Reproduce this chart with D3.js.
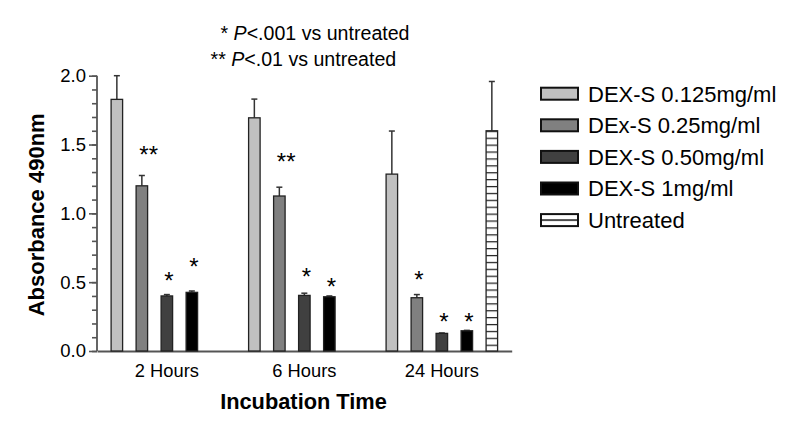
<!DOCTYPE html>
<html>
<head>
<meta charset="utf-8">
<script src="https://cdn.jsdelivr.net/npm/d3@7"></script>
<style>
  html, body { margin: 0; padding: 0; background: #fff; }
  svg { display: block; font-family: "Liberation Sans", Arial, sans-serif; }
</style>
</head>
<body>
<svg id="chart" width="797" height="434"></svg>
<script>
// ---- data ----
const groups = ["2 Hours", "6 Hours", "24 Hours"];
const seriesNames = ["DEX-S 0.125mg/ml", "DEx-S 0.25mg/ml", "DEX-S 0.50mg/ml", "DEX-S 1mg/ml", "Untreated"];
const dex0125 = [1.828, 1.694, 1.285];
const dex025 = [1.20, 1.126, 0.387];
const dex050 = [0.40, 0.404, 0.128];
const dex1 = [0.426, 0.394, 0.147];
const untreated = [null, null, 1.60];
const err0125 = [0.172, 0.136, 0.313];
const err025 = [0.075, 0.064, 0.023];
const err050 = [0.010, 0.016, 0.003];
const err1 = [0.010, 0.006, 0.003];
const errUntreated = [null, null, 0.358];
const yTicks = [0, 0.5, 1.0, 1.5, 2.0];
const yMinorTicks = d3.range(0, 21).map(i => i / 10);
// significance marks: [group, series, label, y position in data units]
const sigGroup = ["2 Hours", "2 Hours", "2 Hours", "6 Hours", "6 Hours", "6 Hours", "24 Hours", "24 Hours", "24 Hours"];
const sigSeries = [1, 2, 3, 1, 2, 3, 1, 2, 3];
const sigLabel = ["**", "*", "*", "**", "*", "*", "*", "*", "*"];
const sigY = [1.467, 0.552, 0.649, 1.412, 0.576, 0.503, 0.557, 0.254, 0.254];
const noteLines = [["*", "P", "<.001 vs untreated"], ["**", "P", "<.01 vs untreated"]];

// ---- table ----
const values = [dex0125, dex025, dex050, dex1, untreated];
const errors = [err0125, err025, err050, err1, errUntreated];
const table = [];
groups.forEach((g, gi) => {
  seriesNames.forEach((s, si) => {
    if (values[si][gi] != null) table.push({ g, si, v: values[si][gi], e: errors[si][gi] });
  });
});

const fills = ["#c0c0c0", "#808080", "#404040", "#000000", "url(#stripes)"];
const legendFills = ["#c0c0c0", "#808080", "#404040", "#000000", "url(#stripesLegend)"];

const svg = d3.select("#chart");
const defs = svg.append("defs");
const pat = defs.append("pattern").attr("id", "stripes")
  .attr("patternUnits", "userSpaceOnUse").attr("width", 20).attr("height", 6.9)
  .attr("y", 0);
pat.append("rect").attr("width", 20).attr("height", 6.9).attr("fill", "#fff");
pat.append("line").attr("x1", 0).attr("x2", 20).attr("y1", 0.6).attr("y2", 0.6)
  .attr("stroke", "#222").attr("stroke-width", 1.3);
const pat2 = defs.append("pattern").attr("id", "stripesLegend")
  .attr("patternUnits", "objectBoundingBox").attr("patternContentUnits", "objectBoundingBox")
  .attr("width", 1).attr("height", 1);
pat2.append("rect").attr("width", 1).attr("height", 1).attr("fill", "#fff");
pat2.append("line").attr("x1", 0).attr("x2", 1).attr("y1", 0.5).attr("y2", 0.5)
  .attr("stroke", "#111").attr("stroke-width", 0.14);

// ---- scales ----
const x0 = d3.scaleBand().domain(groups).range([97, 511.7])
  .paddingInner(0.0909).paddingOuter(0.0535);
const x1 = d3.scaleBand().domain(d3.range(seriesNames.length)).range([0, x0.bandwidth()])
  .paddingInner(0.54).paddingOuter(0.27);
const y = d3.scaleLinear().domain([0, 2]).range([351, 75.7]);

// pattern aligned to top of untreated bar
pat.attr("y", y(untreated[2]));

// ---- axes ----
const axisColor = "#555";
const yMinor = svg.append("g").attr("transform", "translate(97,0)")
  .call(d3.axisLeft(y).tickValues(yMinorTicks).tickSize(5).tickFormat(""));
const yAxis = svg.append("g").attr("transform", "translate(97,0)")
  .call(d3.axisLeft(y).tickValues(yTicks).tickSize(8).tickSizeOuter(0).tickPadding(3).tickFormat(d3.format(".1f")));
[yMinor, yAxis].forEach(a => {
  a.selectAll("path,line").attr("stroke", axisColor).attr("stroke-width", 1.6);
  a.select(".domain").remove();
});
yAxis.selectAll("text").attr("font-size", 18.5).attr("fill", "#000")
  .attr("font-family", "Liberation Sans, Arial, sans-serif");
svg.append("line").attr("x1", 97).attr("x2", 97).attr("y1", y(2)).attr("y2", y(0))
  .attr("stroke", axisColor).attr("stroke-width", 1.8);

const xAxis = svg.append("g").attr("transform", `translate(0,${y(0)})`)
  .call(d3.axisBottom(x0).tickSize(0).tickSizeOuter(0).tickPadding(13));
xAxis.select(".domain").attr("stroke", axisColor).attr("stroke-width", 1.8);
xAxis.selectAll("text").attr("font-size", 18.3).attr("fill", "#000")
  .attr("font-family", "Liberation Sans, Arial, sans-serif");

// ---- bars ----
const bars = svg.append("g");
const barG = bars.selectAll("g.bar").data(table).join("g").attr("class", "bar");
// error bars (upper only)
barG.append("line")
  .attr("x1", d => x0(d.g) + x1(d.si) + x1.bandwidth() / 2)
  .attr("x2", d => x0(d.g) + x1(d.si) + x1.bandwidth() / 2)
  .attr("y1", d => y(d.v)).attr("y2", d => y(d.v + d.e))
  .attr("stroke", "#333").attr("stroke-width", 1.5);
barG.append("line")
  .attr("x1", d => x0(d.g) + x1(d.si) + x1.bandwidth() / 2 - 3)
  .attr("x2", d => x0(d.g) + x1(d.si) + x1.bandwidth() / 2 + 3)
  .attr("y1", d => y(d.v + d.e)).attr("y2", d => y(d.v + d.e))
  .attr("stroke", "#333").attr("stroke-width", 1.5);
barG.append("rect")
  .attr("x", d => x0(d.g) + x1(d.si))
  .attr("width", x1.bandwidth())
  .attr("y", d => y(d.v))
  .attr("height", d => y(0) - y(d.v))
  .attr("fill", d => fills[d.si])
  .attr("stroke", "#222").attr("stroke-width", 1.3);

// ---- significance marks ----
svg.append("g").selectAll("text").data(sigLabel).join("text")
  .attr("x", (d, i) => x0(sigGroup[i]) + x1(sigSeries[i]) + x1.bandwidth() / 2 - 2.5)
  .attr("y", (d, i) => y(sigY[i]) + 13.5)
  .attr("font-size", 24).attr("fill", "#000")
  .text(d => d);

// ---- notes ----
const notes = svg.append("g");
noteLines.forEach((ln, i) => {
  const t = notes.append("text").attr("x", [220.5, 210.5][i]).attr("y", [40, 66][i])
    .attr("font-size", 19.6).attr("fill", "#000");
  t.append("tspan").text(ln[0] + " ");
  t.append("tspan").attr("font-style", "italic").text(ln[1]);
  t.append("tspan").text(ln[2]);
});

// ---- axis titles ----
svg.append("text").attr("transform", `translate(43.5,${(y(0) + y(2)) / 2 + 1.5}) rotate(-90)`)
  .attr("text-anchor", "middle").attr("font-size", 22).attr("font-weight", "bold")
  .attr("fill", "#000").text("Absorbance 490nm");
svg.append("text").attr("x", 303.5).attr("y", 408.5)
  .attr("text-anchor", "middle").attr("font-size", 21.8).attr("font-weight", "bold")
  .attr("fill", "#000").text("Incubation Time");

// ---- legend ----
const legend = svg.append("g").attr("transform", "translate(541,93.7)");
const li = legend.selectAll("g").data(seriesNames).join("g")
  .attr("transform", (d, i) => `translate(0,${i * 31.6})`);
li.append("rect").attr("x", 0).attr("y", -6).attr("width", 37).attr("height", 12)
  .attr("fill", (d, i) => legendFills[i]).attr("stroke", "#111").attr("stroke-width", 2);
li.append("text").attr("x", 47).attr("y", 0).attr("dy", "0.36em")
  .attr("font-size", 22).attr("fill", "#000").text(d => d);
</script>
</body>
</html>
